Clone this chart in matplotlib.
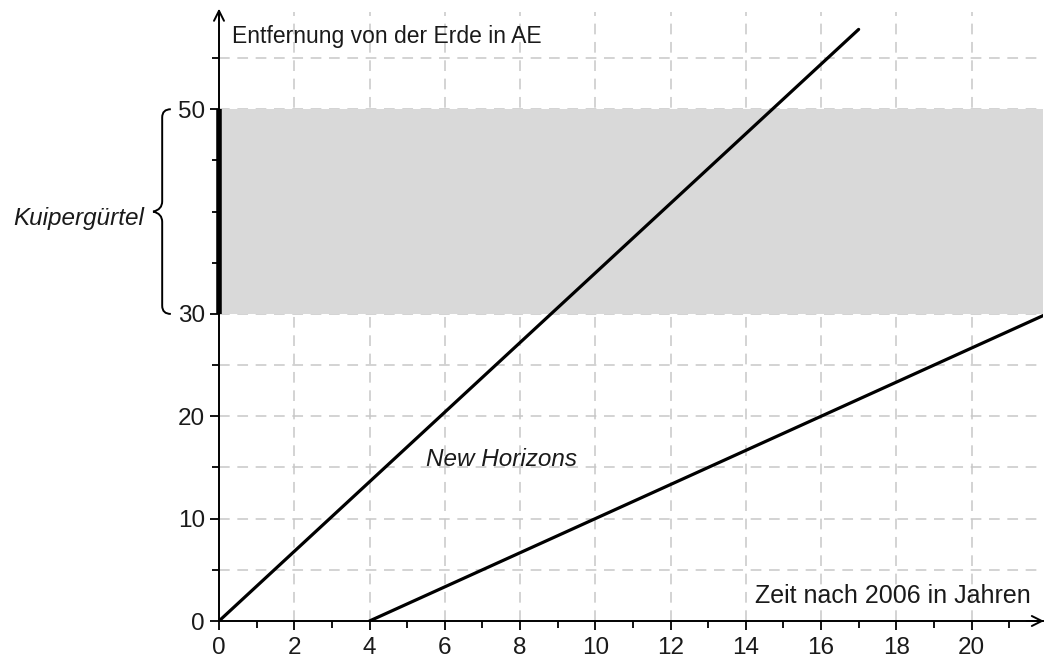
import matplotlib

matplotlib.use("Agg")

import matplotlib.pyplot as plt  # noqa: E402
from matplotlib.path import Path  # noqa: E402
from matplotlib.patches import PathPatch  # noqa: E402

plt.rcParams["font.family"] = ["Liberation Sans", "DejaVu Sans"]

# Daten: zwei Sonden, Entfernung (AE) über Zeit (Jahre nach 2006)
probe_a_x = [0, 17]
probe_a_y = [0, 57.8]
probe_b_x = [4, 22]
probe_b_y = [0, 30]
kuiper_band = (30, 50)
x_major = [0, 2, 4, 6, 8, 10, 12, 14, 16, 18, 20]
y_major = [0, 10, 20, 30, 50]
x_max, y_max = 21.9, 59.5

TXT = "#1a1a1a"

fig = plt.figure(figsize=(10.45, 6.58), dpi=100)
ax = fig.add_axes([219 / 1045, 37 / 658, (1043 - 219) / 1045, (621 - 12) / 658])
ax.set_xlim(0, x_max)
ax.set_ylim(0, y_max)

for s in ("top", "right"):
    ax.spines[s].set_visible(False)
for s in ("left", "bottom"):
    ax.spines[s].set_linewidth(1.4)

# Raster
for gx in range(2, 22, 2):
    ax.axvline(gx, color="#c8c8c8", lw=1.1, ls=(0, (7, 5)), zorder=0)
for gy in range(5, 60, 5):
    ax.axhline(gy, color="#c8c8c8", lw=1.1, ls=(0, (7, 5)), zorder=0)

# Kuipergürtel
ax.axhspan(*kuiper_band, color="#d9d9d9", lw=0, zorder=0.5)
ax.plot([0, 0], kuiper_band, color="black", lw=4, solid_capstyle="butt",
        clip_on=False, zorder=3)

ax.plot(probe_a_x, probe_a_y, color="black", lw=2.3, solid_capstyle="round", zorder=2)
ax.plot(probe_b_x, probe_b_y, color="black", lw=2.3, solid_capstyle="round", zorder=2)

ax.set_xticks(x_major)
ax.set_xticks(range(1, 22, 2), minor=True)
ax.set_yticks(y_major)
ax.set_yticks([5, 15, 25, 35, 40, 45, 55], minor=True)
ax.set_yticklabels([str(v) for v in y_major])
ax.tick_params(axis="both", which="major", length=6.5, width=1.3, labelsize=17.5,
               labelcolor=TXT)
ax.tick_params(axis="both", which="minor", length=5, width=1.3)
ax.tick_params(axis="x", which="major", pad=5)
ax.tick_params(axis="y", which="major", pad=3.5)

# Pfeile an den Achsen
ax.annotate("", xy=(x_max + 0.1, 0), xytext=(x_max - 0.5, 0),
            arrowprops=dict(arrowstyle="->", lw=1.4, mutation_scale=18),
            annotation_clip=False)
ax.annotate("", xy=(0, y_max + 0.6), xytext=(0, y_max - 1),
            arrowprops=dict(arrowstyle="->", lw=1.4, mutation_scale=18),
            annotation_clip=False)

ax.text(0.35, 56.45, "Entfernung von der Erde in AE", fontsize=16.5, color=TXT,
        va="baseline")
ax.text(21.57, 1.75, "Zeit nach 2006 in Jahren", fontsize=18, color=TXT,
        ha="right", va="baseline")
ax.text(5.5, 15.1, "New Horizons", fontsize=17.5, color=TXT, style="italic",
        va="baseline")

# geschweifte Klammer
bx, tip, ex = -1.51, -1.75, -1.28
verts = [
    (ex, 50), (bx, 50), (bx, 49.2),
    (bx, 41), (bx, 40.2), (tip, 40),
    (bx, 39.8), (bx, 39), (bx, 30.8),
    (bx, 30), (ex, 30),
]
codes = [Path.MOVETO, Path.CURVE3, Path.CURVE3,
         Path.LINETO, Path.CURVE3, Path.CURVE3,
         Path.CURVE3, Path.CURVE3, Path.LINETO,
         Path.CURVE3, Path.CURVE3]
ax.add_patch(PathPatch(Path(verts, codes), fill=False, lw=1.4, clip_on=False))
ax.text(-2.0, 38.7, "Kuipergürtel", fontsize=17.5, color=TXT, style="italic",
        ha="right", va="baseline")

fig.savefig("out.png", dpi=100)
